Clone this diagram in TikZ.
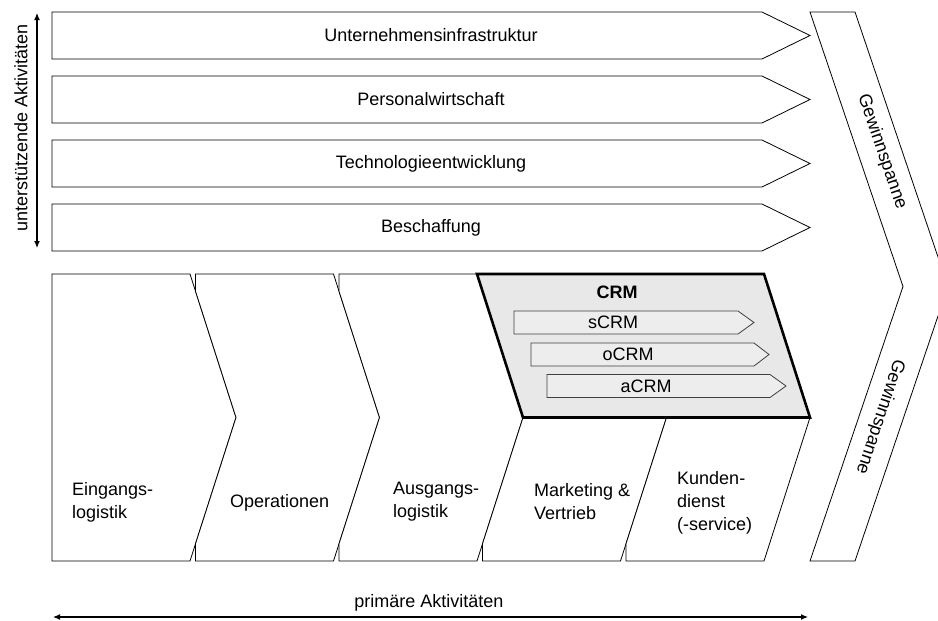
\documentclass[tikz,border=0pt]{standalone}
\usepackage{fontspec}
\setmainfont{Liberation Sans}
\usetikzlibrary{arrows.meta}
\begin{document}
\begin{tikzpicture}[x=1pt,y=-1pt,
  lbl/.style={font=\fontsize{18}{23}\selectfont, inner sep=0pt},
  outline/.style={draw=black, line width=0.8pt, line join=miter, fill=white},
  crmbox/.style={draw=black, line width=2.6pt, fill=black!9, line join=miter},
  subbox/.style={draw=black!75, line width=0.8pt, fill=black!7, line join=miter},
  dimarrow/.style={line width=1.2pt, {Latex[length=7pt,width=6pt]}-{Latex[length=7pt,width=6pt]}}
]
\useasboundingbox (0,0) rectangle (938,621);
\clip (0,0) rectangle (938,621);

% support activities
\foreach \i/\t in {0/Unternehmensinfrastruktur,1/Personalwirtschaft,2/Technologieentwicklung,3/Beschaffung}{
  \pgfmathsetmacro{\yt}{12+64*\i}
  \draw[outline] (52,\yt) -- (762,\yt) -- (810,\yt+23.5) -- (762,\yt+47) -- (52,\yt+47) -- cycle;
  \node[lbl] (s\i) at (431,\yt+23.5) {\t};
}

% margin chevron
\draw[outline] (810,12) -- (855,12) -- (948,286.5) -- (855,561) -- (810,561) -- (903,286.5) -- cycle;
\node[lbl, rotate=-71] (g1) at (882,152) {Gewinnspanne};
\node[lbl, rotate=-108.5] (g2) at (880,417) {Gewinnspanne};

% primary activities
\draw[outline] (52,274) -- (190,274) -- (236,417.5) -- (190,561) -- (52,561) -- cycle;
\draw[outline] (195.5,274) -- (333.5,274) -- (379.5,417.5) -- (333.5,561) -- (195.5,561)
  -- (195.5,543.8) -- (236,417.5) -- (195.5,291.2) -- cycle;
\draw[outline] (339,274) -- (477,274) -- (523,417.5) -- (477,561) -- (339,561)
  -- (339,543.8) -- (379.5,417.5) -- (339,291.2) -- cycle;
\draw[outline] (482.5,274) -- (620.5,274) -- (666.5,417.5) -- (620.5,561) -- (482.5,561)
  -- (482.5,543.8) -- (523,417.5) -- (482.5,291.2) -- cycle;
\draw[outline] (626,274) -- (764,274) -- (810,417.5) -- (764,561) -- (626,561)
  -- (626,543.8) -- (666.5,417.5) -- (626,291.2) -- cycle;

% CRM block
\draw[crmbox] (477,274) -- (764,274) -- (810,417.5) -- (523,417.5) -- cycle;
\node[lbl, font=\fontsize{18}{23}\selectfont\bfseries] (crm) at (617,292) {CRM};
\draw[subbox] (514,311) -- (738,311) -- (754,322.5) -- (738,334) -- (514,334) -- cycle;
\node[lbl] (scrm) at (613,322.5) {sCRM};
\draw[subbox] (531,343) -- (754,343) -- (769,354.5) -- (754,366) -- (531,366) -- cycle;
\node[lbl] (ocrm) at (628,354.5) {oCRM};
\draw[subbox] (547,374.5) -- (770,374.5) -- (786,386) -- (770,397.5) -- (547,397.5) -- cycle;
\node[lbl] (acrm) at (646,386) {aCRM};

% labels of the primary activities
\node[lbl, anchor=west, align=left] (p1) at (72,502) {Eingangs-\\logistik};
\node[lbl, anchor=west] (p2) at (230,503) {Operationen};
\node[lbl, anchor=west, align=left] (p3) at (393,502) {Ausgangs-\\logistik};
\node[lbl, anchor=west, align=left] (p4) at (534,502) {Marketing \&\\Vertrieb};
\node[lbl, anchor=west, align=left] (p5) at (677,503) {Kunden-\\dienst\\(-service)};

% axis arrows
\coordinate (ua) at (37,13);
\coordinate (ub) at (37,248);
\draw[dimarrow] (ua) -- (ub);
\node[lbl, rotate=90] (ut) at (21,128) {unterstützende Aktivitäten};
\coordinate (pa) at (53,617);
\coordinate (pb) at (808,617);
\draw[dimarrow] (pa) -- (pb);
\node[lbl] (pt) at (429,603) {primäre Aktivitäten};
\end{tikzpicture}
\end{document}
